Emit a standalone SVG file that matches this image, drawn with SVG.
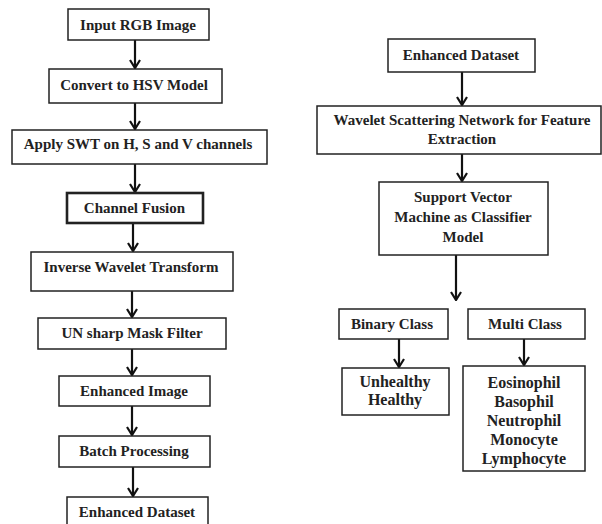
<svg xmlns="http://www.w3.org/2000/svg" width="602" height="524" viewBox="0 0 602 524">
<style>
.box{fill:#fff;stroke:#222;stroke-width:1.5}
.bold{stroke-width:2.6}
text{font-family:"Liberation Serif","Times New Roman",serif;font-weight:bold;font-size:15px;fill:#222;text-anchor:middle}
.big{font-size:16px}
.conn{stroke:#111;stroke-width:2.2;fill:none}
</style>
<defs>
<marker id="arr" viewBox="0 0 12 12" refX="11" refY="6" markerWidth="12" markerHeight="12" markerUnits="userSpaceOnUse" orient="auto">
<path d="M3,1 L11,6 L3,11" fill="none" stroke="#111" stroke-width="2.2"/>
</marker>
</defs>
<rect width="602" height="524" fill="#fff"/>
<g id="connectors">
<line class="conn" x1="135" y1="40" x2="135" y2="68" marker-end="url(#arr)"/>
<line class="conn" x1="135" y1="103" x2="135" y2="129" marker-end="url(#arr)"/>
<line class="conn" x1="135" y1="164" x2="135" y2="192" marker-end="url(#arr)"/>
<line class="conn" x1="133" y1="223" x2="133" y2="251" marker-end="url(#arr)"/>
<line class="conn" x1="132" y1="291" x2="132" y2="317" marker-end="url(#arr)"/>
<line class="conn" x1="132" y1="349" x2="132" y2="375" marker-end="url(#arr)"/>
<line class="conn" x1="132" y1="406" x2="132" y2="435" marker-end="url(#arr)"/>
<line class="conn" x1="133" y1="467" x2="133" y2="496" marker-end="url(#arr)"/>
<line class="conn" x1="462" y1="72" x2="462" y2="105" marker-end="url(#arr)"/>
<line class="conn" x1="462" y1="154" x2="462" y2="181" marker-end="url(#arr)"/>
<line class="conn" x1="456" y1="255" x2="456" y2="300" marker-end="url(#arr)"/>
<line class="conn" x1="399" y1="339" x2="399" y2="367" marker-end="url(#arr)"/>
<line class="conn" x1="524" y1="339" x2="524" y2="365" marker-end="url(#arr)"/>
</g>
<g id="n1"><rect class="box" x="68" y="9" width="141" height="31"/><text x="138" y="30">Input RGB Image</text></g>
<g id="n2"><rect class="box" x="49" y="69" width="173" height="34"/><text x="134" y="90">Convert to HSV Model</text></g>
<g id="n3"><rect class="box" x="12" y="130" width="255" height="34"/><text x="138" y="149">Apply SWT on H, S and V channels</text></g>
<g id="n4"><rect class="box bold" x="67" y="193" width="136" height="30"/><text x="134.5" y="213">Channel Fusion</text></g>
<g id="n5"><rect class="box" x="31" y="252" width="202" height="39"/><text x="131" y="272">Inverse Wavelet Transform</text></g>
<g id="n6"><rect class="box" x="38" y="318" width="188" height="31"/><text x="132" y="338">UN sharp Mask Filter</text></g>
<g id="n7"><rect class="box" x="59" y="376" width="151" height="30"/><text x="134" y="396">Enhanced Image</text></g>
<g id="n8"><rect class="box" x="59" y="436" width="151" height="31"/><text x="134" y="456">Batch Processing</text></g>
<g id="n9"><rect class="box" x="67" y="497" width="141" height="34"/><text x="137" y="517">Enhanced Dataset</text></g>
<g id="r1"><rect class="box" x="388" y="39" width="147" height="33"/><text x="461" y="60">Enhanced Dataset</text></g>
<g id="r2"><rect class="box" x="317" y="106" width="284" height="48"/><text x="462" y="125">Wavelet Scattering Network for Feature</text><text x="462" y="144">Extraction</text></g>
<g id="r3"><rect class="box" x="379" y="182" width="169" height="73"/><text x="463" y="202">Support Vector</text><text x="463" y="222">Machine as Classifier</text><text x="463" y="242">Model</text></g>
<g id="r4"><rect class="box" x="339" y="309" width="109" height="30"/><text x="392" y="329">Binary Class</text></g>
<g id="r5"><rect class="box" x="468" y="309" width="117" height="30"/><text x="525" y="329">Multi Class</text></g>
<g id="r6"><rect class="box" x="342" y="368" width="107" height="47"/><text class="big" x="395" y="387">Unhealthy</text><text class="big" x="395" y="405">Healthy</text></g>
<g id="r7"><rect class="box" x="463" y="366" width="122" height="105"/><text class="big" x="524" y="388">Eosinophil</text><text class="big" x="524" y="407">Basophil</text><text class="big" x="524" y="426">Neutrophil</text><text class="big" x="524" y="445">Monocyte</text><text class="big" x="524" y="464">Lymphocyte</text></g>
</svg>
